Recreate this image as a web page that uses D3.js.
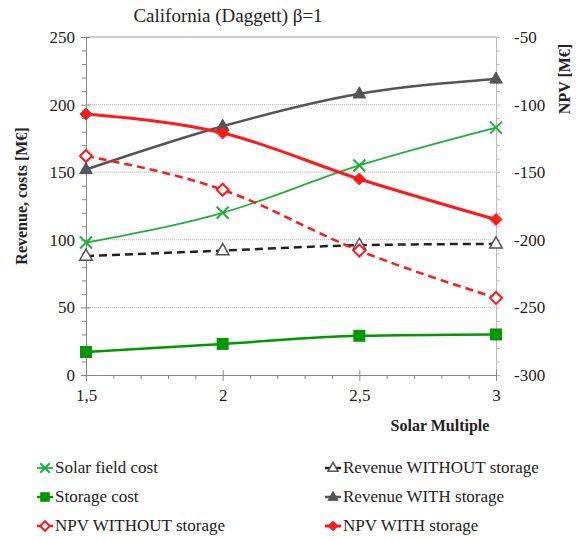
<!DOCTYPE html>
<html><head><meta charset="utf-8">
<script src="https://cdn.jsdelivr.net/npm/d3@7"></script>
<style>body{margin:0;background:#fff}</style>
</head><body><svg id="c" width="576" height="541"></svg>
<script>
const solarMultiple = [1.5, 2, 2.5, 3];
const xTickLabels = ["1,5", "2", "2,5", "3"];
const solarFieldCost = [98, 120, 155, 183];
const storageCost = [17, 23, 29, 30];
const revenueWithout = [88, 92, 96, 97];
const revenueWith = [152, 184, 208, 219];
const npvWithout = [-138, -163, -208, -243];
const npvWith = [-107, -121, -155, -185];
const leftTicks = [0, 50, 100, 150, 200, 250];
const rightTicks = [-300, -250, -200, -150, -100, -50];

const FONT = "'Liberation Serif', 'Times New Roman', serif";
const svg = d3.select("#c");
const L = 86, R = 496, T = 37, B = 375;
const x = d3.scaleLinear().domain([1.5, 3]).range([L, R]);
const y = d3.scaleLinear().domain([0, 250]).range([B, T]);
const y2 = d3.scaleLinear().domain([-300, -50]).range([B, T]);

// gridlines
svg.append("g").selectAll("line").data([50,100,150,200]).join("line")
  .attr("x1", L).attr("x2", R).attr("y1", d=>y(d)).attr("y2", d=>y(d))
  .attr("stroke", "#bbb").attr("stroke-width", 1).attr("stroke-dasharray", "1,1");
svg.append("line").attr("x1", L).attr("x2", R).attr("y1", y(250)).attr("y2", y(250))
  .attr("stroke", "#999").attr("stroke-width", 1.2);

function styleTicks(g) {
  g.attr("font-family", null);
  g.selectAll("text").style("font-family", FONT).style("font-size", "17px").attr("fill", "#222");
}

// left axis
const gl = svg.append("g").attr("transform", `translate(${L},0)`)
  .call(d3.axisLeft(y).tickValues(leftTicks).tickSize(5).tickPadding(6));
styleTicks(gl);
gl.select(".domain").attr("stroke", "#888");
gl.selectAll(".tick line").attr("stroke", "#888").attr("x2", -5).attr("x1", 4);
svg.append("g").attr("transform", `translate(${L},0)`)
  .call(d3.axisLeft(y).tickValues(d3.range(10, 250, 10).filter(v => v % 50)).tickSize(4).tickFormat(""))
  .call(g => { g.select(".domain").remove(); g.selectAll("line").attr("stroke", "#888"); });

// right axis
const gr = svg.append("g").attr("transform", `translate(${R},0)`)
  .call(d3.axisRight(y2).tickValues(rightTicks).tickSize(4).tickPadding(14).tickFormat(d => d));
styleTicks(gr);
gr.select(".domain").attr("stroke", "#bbb");
gr.selectAll(".tick line").attr("stroke", "#bbb");
svg.append("g").attr("transform", `translate(${R},0)`)
  .call(d3.axisRight(y2).tickValues(d3.range(-290, -50, 10).filter(v => v % 50)).tickSize(4).tickFormat(""))
  .call(g => { g.select(".domain").remove(); g.selectAll("line").attr("stroke", "#bbb"); });

// x axis
const gx = svg.append("g").attr("transform", `translate(0,${B})`)
  .call(d3.axisBottom(x).tickValues(solarMultiple).tickSize(6).tickPadding(8).tickFormat((d,i) => xTickLabels[i]));
styleTicks(gx);
gx.select(".domain").attr("stroke", "#888");
gx.selectAll(".tick line").attr("stroke", "#888").attr("y1", -5);
svg.append("g").attr("transform", `translate(0,${B})`)
  .call(d3.axisBottom(x).tickValues(d3.range(1.6, 3, 0.1).filter(v => Math.abs(v*2 - Math.round(v*2)) > 0.01)).tickSize(4).tickFormat(""))
  .call(g => { g.select(".domain").remove(); g.selectAll("line").attr("stroke", "#888"); });

// title & axis titles
function label(t, size, bold) {
  return svg.append("text").style("font-family", FONT).style("font-size", size + "px")
    .style("font-weight", bold ? "bold" : "normal").attr("fill", "#222").text(t);
}
label("California (Daggett) β=1", 19, false).attr("x", 228).attr("y", 22).attr("text-anchor", "middle");
label("Revenue, costs [M€]", 16, true).attr("transform", `translate(27,${(T+B)/2-10}) rotate(-90)`).attr("text-anchor", "middle");
label("NPV [M€]", 16, true).attr("transform", `translate(570,${T+42}) rotate(-90)`).attr("text-anchor", "middle");
label("Solar Multiple", 16, true).attr("x", 440).attr("y", 431).attr("text-anchor", "middle");

// series
const series = [
  {name: "Solar field cost", vals: solarFieldCost, sc: y, color: "#1fb040", w: 1.8, dash: null, marker: "x"},
  {name: "Storage cost", vals: storageCost, sc: y, color: "#009a00", w: 2.5, dash: null, marker: "square"},
  {name: "NPV WITHOUT storage", vals: npvWithout, sc: y2, color: "#ff1a1a", w: 2.5, dash: "8,5", marker: "diamondOpen"},
  {name: "Revenue WITHOUT storage", vals: revenueWithout, sc: y, color: "#222", w: 2.5, dash: "8,5", marker: "triOpen"},
  {name: "Revenue WITH storage", vals: revenueWith, sc: y, color: "#555", w: 2.5, dash: null, marker: "tri"},
  {name: "NPV WITH storage", vals: npvWith, sc: y2, color: "#ff1a1a", w: 3, dash: null, marker: "diamond"}
];

function drawMarker(g, type, cx, cy, color, s) {
  s = s || 1;
  if (type === "x") {
    const r = 6*s;
    g.append("path").attr("d", `M${cx-r},${cy-r}L${cx+r},${cy+r}M${cx-r},${cy+r}L${cx+r},${cy-r}`)
      .attr("stroke", color).attr("stroke-width", 2).attr("fill", "none");
  } else if (type === "square") {
    const r = 6*s;
    g.append("rect").attr("x", cx-r).attr("y", cy-r).attr("width", 2*r).attr("height", 2*r).attr("fill", color);
  } else if (type === "diamond" || type === "diamondOpen") {
    const r = 6*s;
    g.append("path").attr("d", `M${cx},${cy-r}L${cx+r},${cy}L${cx},${cy+r}L${cx-r},${cy}Z`)
      .attr("fill", type === "diamond" ? color : "#fff").attr("stroke", color).attr("stroke-width", type === "diamond" ? 1 : 2);
  } else if (type === "tri" || type === "triOpen") {
    const r = 7*s;
    g.append("path").attr("d", `M${cx},${cy-r}L${cx+r*0.9},${cy+r*0.6}L${cx-r*0.9},${cy+r*0.6}Z`)
      .attr("fill", type === "tri" ? color : "#fff").attr("stroke", type === "tri" ? color : "#555").attr("stroke-width", type === "tri" ? 1 : 1.5);
  }
}

const order = [1, 0, 3, 4, 2, 5];
order.forEach(i => {
  const s = series[i];
  const pts = solarMultiple.map((xv, j) => [x(xv), s.sc(s.vals[j])]);
  const line = d3.line().curve(d3.curveMonotoneX);
  svg.append("path").attr("d", line(pts)).attr("fill", "none").attr("stroke", s.color)
    .attr("stroke-width", s.w).attr("stroke-dasharray", s.dash);
  const g = svg.append("g");
  pts.forEach(p => drawMarker(g, s.marker, p[0], p[1], s.color));
});

// legend
const legendPos = [
  {i: 0, x: 37, y: 468}, {i: 1, x: 37, y: 497}, {i: 2, x: 37, y: 526},
  {i: 3, x: 325, y: 468}, {i: 4, x: 325, y: 497}, {i: 5, x: 325, y: 526}
];
legendPos.forEach(p => {
  const s = series[p.i];
  const g = svg.append("g");
  g.append("line").attr("x1", p.x).attr("x2", p.x+16).attr("y1", p.y).attr("y2", p.y)
    .attr("stroke", s.color).attr("stroke-width", s.w);
  drawMarker(g, s.marker, p.x+8, p.y, s.color, 0.8);
  g.append("text").attr("x", p.x+18).attr("y", p.y+5).style("font-family", FONT).style("font-size", "17px")
    .attr("fill", "#222").text(s.name);
});
</script></body></html>
